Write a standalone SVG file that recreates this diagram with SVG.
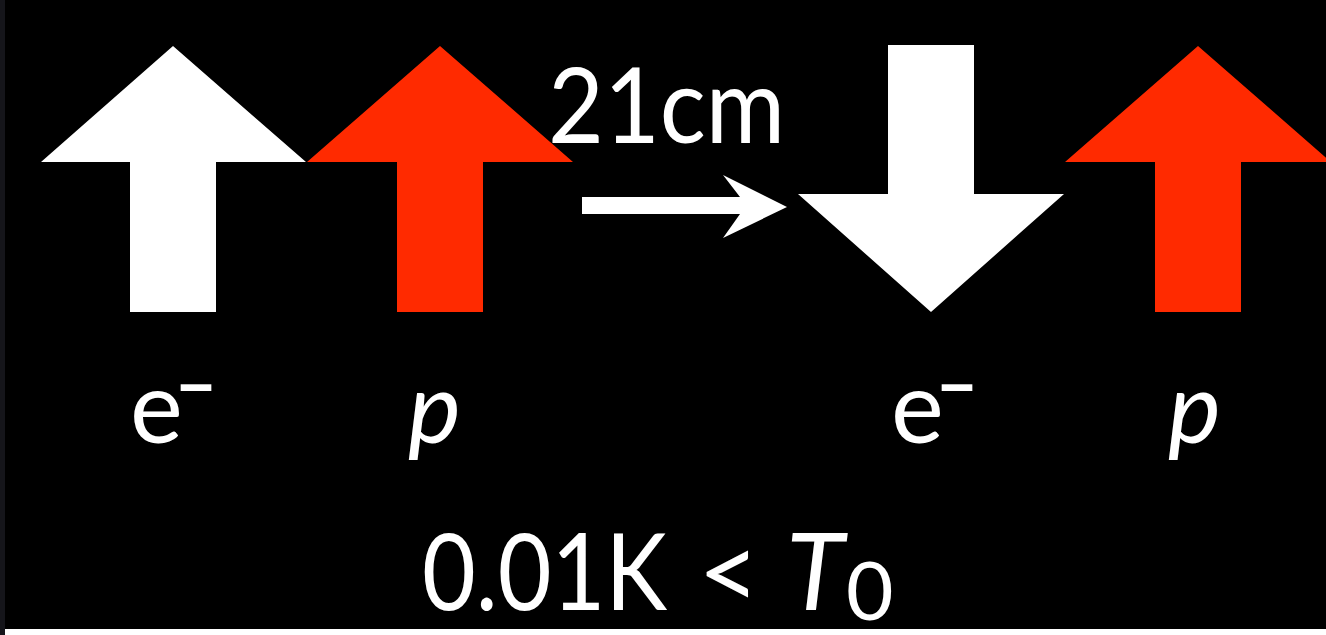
<svg xmlns="http://www.w3.org/2000/svg" width="1326" height="635" viewBox="0 0 1326 635">
<style>
.t{font-family:Lato,"Open Sans","Liberation Sans",sans-serif;fill:#fff}
.it{font-style:italic}
.m{font-size:72px;font-weight:bold}
.w{fill:#fff}
.r{fill:#ff2a00}
</style>
<rect x="0" y="0" width="1326" height="635" fill="#000"/>
<rect x="0" y="0" width="5" height="635" fill="#15151a"/>
<rect x="5" y="629" width="1321" height="6" fill="#fff"/>
<g id="electron-up">
<polygon class="w" points="173,46 306,162 216,162 216,312 130,312 130,162 41,162"/>
</g>
<g id="proton-up-1">
<polygon class="r" points="440,46 573,162 483,162 483,312 397,312 397,162 307,162"/>
</g>
<g id="electron-down">
<polygon class="w" points="888,45 974,45 974,194 1064,194 931,312 798,194 888,194"/>
</g>
<g id="proton-up-2">
<polygon class="r" points="1198,46 1331,162 1241,162 1241,312 1155,312 1155,162 1065,162"/>
</g>
<g id="connectors">
<polygon class="w" points="582,197 740,197 723,175 787,207 723,238 740,214 582,214"/>
</g>
<g id="labels">
<text class="t" x="548" y="143" font-size="105" textLength="237" lengthAdjust="spacingAndGlyphs">21cm</text>
<text class="t" x="130" y="443" font-size="100">e<tspan class="m" x="176" y="412" textLength="40" lengthAdjust="spacingAndGlyphs">−</tspan></text>
<text class="t it" x="408" y="443" font-size="100">p</text>
<text class="t" x="891" y="443" font-size="100">e<tspan class="m" x="937" y="412" textLength="40" lengthAdjust="spacingAndGlyphs">−</tspan></text>
<text class="t it" x="1168" y="443" font-size="100">p</text>
<text class="t" x="422" y="610" font-size="107"><tspan textLength="245" lengthAdjust="spacingAndGlyphs">0.01K</tspan><tspan x="698">&lt;</tspan><tspan class="it" x="786" textLength="58" lengthAdjust="spacingAndGlyphs">T</tspan><tspan x="846" y="620" font-size="82">0</tspan></text>
</g>
</svg>
